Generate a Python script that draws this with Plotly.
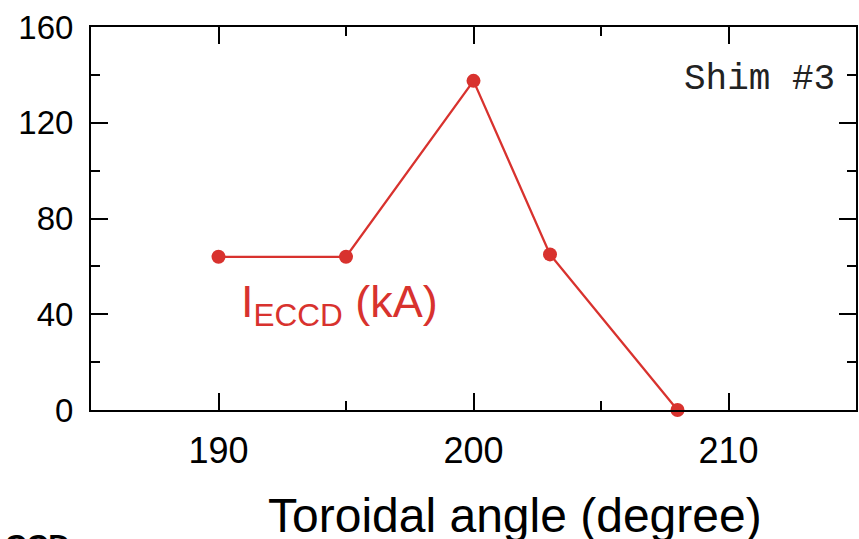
import plotly.graph_objects as go

angle = [190, 195, 200, 203, 208]
ieccd = [64, 64, 137.5, 65, 0]
x_ticks = [190, 200, 210]
y_ticks = [0, 40, 80, 120, 160]

RED = "#d8322e"
fig = go.Figure()
fig.add_trace(go.Scatter(
    x=angle, y=ieccd, mode="lines+markers",
    line=dict(color=RED, width=2.3),
    marker=dict(color=RED, size=14, symbol="circle"),
    showlegend=False, cliponaxis=False,
))

axis_common = dict(
    showline=True, linecolor="black", linewidth=2, mirror="allticks",
    ticks="inside", ticklen=17, tickwidth=2, tickcolor="black",
    showgrid=False, zeroline=False,
)

fig.update_xaxes(
    range=[185, 215], tickvals=x_ticks, ticktext=[str(v) for v in x_ticks],
    minor=dict(ticks="inside", ticklen=9, tickwidth=2, tickcolor="black", dtick=5, tick0=185, showgrid=False),
    ticklabelstandoff=8,
    tickfont=dict(family="Liberation Sans, Arial", size=36, color="black"),
    **axis_common,
)
fig.update_yaxes(
    range=[0, 160], tickvals=y_ticks, ticktext=[str(v) for v in y_ticks],
    minor=dict(ticks="inside", ticklen=9, tickwidth=2, tickcolor="black", dtick=20, tick0=0, showgrid=False),
    ticklabelstandoff=9,
    tickfont=dict(family="Liberation Sans, Arial", size=33, color="black"),
    **axis_common,
)

# x-axis title (offset to the right, as in the reference)
fig.add_annotation(
    x=0.554, y=0, xref="paper", yref="paper", xanchor="center", yanchor="middle",
    yshift=-105, text="Toroidal angle (degree)", showarrow=False,
    font=dict(family="Liberation Sans, Arial", size=48, color="black"),
)
fig.add_annotation(
    x=190.8, y=44, xref="x", yref="y", xanchor="left", yanchor="middle",
    text="I<sub>ECCD</sub> (kA)", showarrow=False,
    font=dict(family="Liberation Sans, Arial", size=45, color=RED),
)
fig.add_annotation(
    x=214.25, y=138, xref="x", yref="y", xanchor="right", yanchor="middle",
    text="Shim #3", showarrow=False,
    font=dict(family="Liberation Mono, Courier New, monospace", size=36, color="#222222"),
)
fig.add_annotation(
    x=0.0, y=0.0, xref="paper", yref="paper", xanchor="left", yanchor="top",
    xshift=-88, yshift=-116,
    text="<b>CCD  a</b>", showarrow=False,
    font=dict(family="Liberation Sans, Arial", size=30, color="black"),
)

fig.update_layout(
    width=859, height=539,
    margin=dict(l=91, r=1, t=27, b=129),
    paper_bgcolor="white", plot_bgcolor="white",
)

fig.write_html("out.html")
